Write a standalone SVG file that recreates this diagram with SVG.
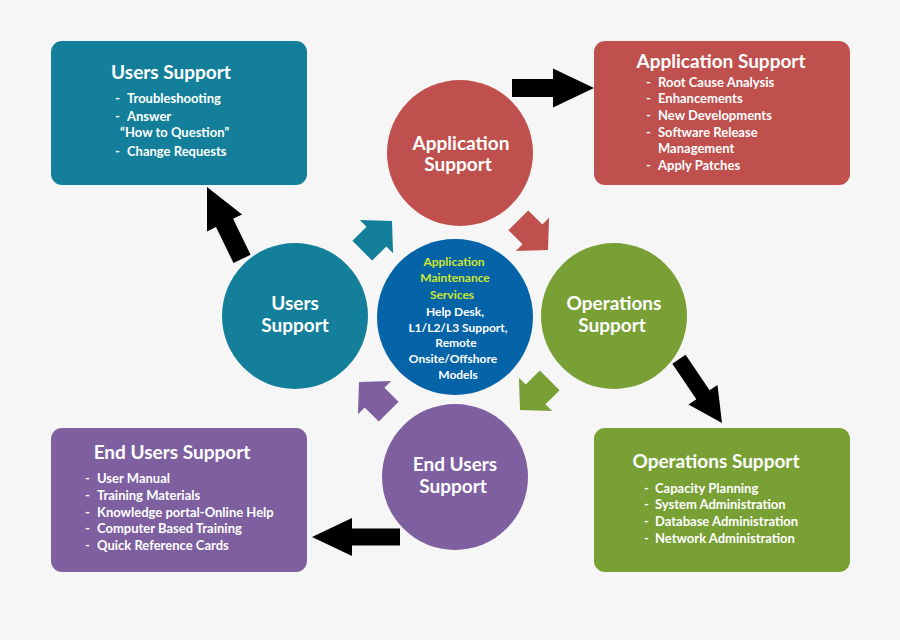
<svg xmlns="http://www.w3.org/2000/svg" width="900" height="640" viewBox="0 0 900 640">
<style>
.t{font-family:Lato,"Open Sans","Liberation Sans",sans-serif;font-weight:bold;fill:#fff}
.h{font-size:19px}
.i{font-size:13px}
.c{font-size:12px}
.y{fill:#cfe82c}
.m{text-anchor:middle}
.blk{fill:#000}
</style>
<rect width="900" height="640" fill="#f6f6f6"/>
<g id="users-box">
<rect x="51" y="41" width="256" height="144" rx="11" fill="#137f9a"/>
<text class="t h m" x="171" y="79">Users Support</text>
<text class="t i" x="115" y="103">-</text><text class="t i" x="127" y="103">Troubleshooting</text>
<text class="t i" x="115" y="121">-</text><text class="t i" x="127" y="121">Answer</text>
<text class="t i" x="120" y="137">“How to Question”</text>
<text class="t i" x="115" y="156">-</text><text class="t i" x="127" y="156">Change Requests</text>
</g>
<g id="app-box">
<rect x="594" y="41" width="256" height="144" rx="11" fill="#c0504d"/>
<text class="t h m" x="721" y="68">Application Support</text>
<text class="t i" x="646" y="87">-</text><text class="t i" x="658" y="87">Root Cause Analysis</text>
<text class="t i" x="646" y="103">-</text><text class="t i" x="658" y="103">Enhancements</text>
<text class="t i" x="646" y="120">-</text><text class="t i" x="658" y="120">New Developments</text>
<text class="t i" x="646" y="137">-</text><text class="t i" x="658" y="137">Software Release</text>
<text class="t i" x="658" y="153">Management</text>
<text class="t i" x="646" y="170">-</text><text class="t i" x="658" y="170">Apply Patches</text>
</g>
<g id="endusers-box">
<rect x="51" y="428" width="256" height="144" rx="11" fill="#7e5f9f"/>
<text class="t h m" x="172" y="459">End Users Support</text>
<text class="t i" x="85" y="483">-</text><text class="t i" x="97" y="483">User Manual</text>
<text class="t i" x="85" y="500">-</text><text class="t i" x="97" y="500">Training Materials</text>
<text class="t i" x="85" y="517">-</text><text class="t i" x="97" y="517">Knowledge portal-Online Help</text>
<text class="t i" x="85" y="533">-</text><text class="t i" x="97" y="533">Computer Based Training</text>
<text class="t i" x="85" y="550">-</text><text class="t i" x="97" y="550">Quick Reference Cards</text>
</g>
<g id="ops-box">
<rect x="594" y="428" width="256" height="144" rx="11" fill="#78a035"/>
<text class="t h m" x="716" y="468">Operations Support</text>
<text class="t i" x="644" y="493">-</text><text class="t i" x="655" y="493">Capacity Planning</text>
<text class="t i" x="644" y="509">-</text><text class="t i" x="655" y="509">System Administration</text>
<text class="t i" x="644" y="526">-</text><text class="t i" x="655" y="526">Database Administration</text>
<text class="t i" x="644" y="543">-</text><text class="t i" x="655" y="543">Network Administration</text>
</g>
<g id="app-circle">
<circle cx="460" cy="153" r="73" fill="#c0504d"/>
<text class="t h m" x="461" y="150">Application</text>
<text class="t h m" x="458" y="171">Support</text>
</g>
<g id="users-circle">
<circle cx="295" cy="316" r="73" fill="#137f9a"/>
<text class="t h m" x="295" y="310">Users</text>
<text class="t h m" x="295" y="332">Support</text>
</g>
<g id="ops-circle">
<circle cx="614" cy="316" r="73" fill="#78a035"/>
<text class="t h m" x="614" y="310">Operations</text>
<text class="t h m" x="612" y="332">Support</text>
</g>
<g id="endusers-circle">
<circle cx="455" cy="477" r="73" fill="#7e5f9f"/>
<text class="t h m" x="455" y="471">End Users</text>
<text class="t h m" x="453" y="493">Support</text>
</g>
<g id="center-circle">
<circle cx="455" cy="317" r="78" fill="#0563a8"/>
<text class="t c m y" x="454" y="266">Application</text>
<text class="t c m y" x="455" y="282">Maintenance</text>
<text class="t c m y" x="452" y="299">Services</text>
<text class="t c m" x="455" y="316">Help Desk,</text>
<text class="t c m" x="458" y="332">L1/L2/L3 Support,</text>
<text class="t c m" x="456" y="347">Remote</text>
<text class="t c m" x="453" y="363">Onsite/Offshore</text>
<text class="t c m" x="458" y="379">Models</text>
</g>
<g id="connectors">
<path class="blk" d="M0 0L-41 -19.5L-41 -9L-82 -9L-82 9L-41 9L-41 19.5Z" transform="translate(594,88)"/>
<path class="blk" d="M0 0L-40 -19L-40 -8.5L-88 -8.5L-88 8.5L-40 8.5L-40 19Z" transform="translate(312,537) rotate(180)"/>
<path class="blk" d="M0 0L-40 -19.5L-40 -9.5L-80 -9.5L-80 9.5L-40 9.5L-40 19.5Z" transform="translate(207,187) rotate(-116)"/>
<path class="blk" d="M0 0L-34 -17.5L-34 -8L-77 -8L-77 8L-34 8L-34 17.5Z" transform="translate(722,423) rotate(56)"/>
<path fill="#137f9a" d="M0 0L-22 -23.5L-22 -14L-42 -14L-42 14L-22 14L-22 23.5Z" transform="translate(392,221) rotate(-45)"/>
<path fill="#c0504d" d="M0 0L-22 -23.5L-22 -14L-42 -14L-42 14L-22 14L-22 23.5Z" transform="translate(548,250) rotate(45)"/>
<path fill="#78a035" d="M0 0L-22 -23.5L-22 -14L-42 -14L-42 14L-22 14L-22 23.5Z" transform="translate(520,410) rotate(135)"/>
<path fill="#7e5f9f" d="M0 0L-22 -23.5L-22 -14L-42 -14L-42 14L-22 14L-22 23.5Z" transform="translate(359,382) rotate(-135)"/>
</g>
</svg>
